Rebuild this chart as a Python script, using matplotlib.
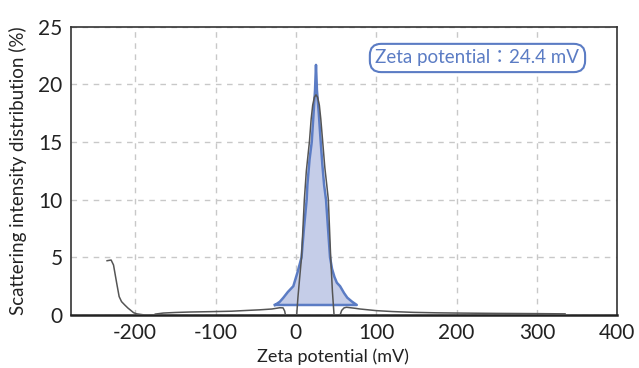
import numpy as np
import matplotlib.pyplot as plt

# measured distribution (mV, %), NaN separates the drawn segments
meas_x = [-235, -230, -227, -223, -220, -217, -213, -209, -206, -202, -198, -194, -190, np.nan,
          -175, -165, -150, -132, -107, -80, -60, -45, -30, -20, -16, -14, -13, np.nan,
          1, 2.5, 4.4, 7, 10.5, 13, 16.8, 19, 20.9, 23, 25, 27, 29.2, 31, 33.4, 36, 38.4, 40.4, 43.3, 45.5, 47.5, np.nan,
          55, 57, 60, 63, 68, 74, 80, 90, 100, 120, 146, 175, 200, 250, 300, 335]
meas_y = [4.71, 4.77, 4.34, 2.75, 1.6, 1.16, 0.87, 0.6, 0.43, 0.2, 0.1, 0.06, 0.02, np.nan,
          0.08, 0.17, 0.22, 0.26, 0.29, 0.33, 0.4, 0.45, 0.52, 0.63, 0.62, 0.35, 0.0, np.nan,
          0.0, 1.5, 3.0, 5.0, 10.0, 12.5, 15.0, 17.0, 18.2, 18.9, 19.1, 18.9, 18.2, 17.0, 15.0, 12.8, 11.3, 10.0, 5.0, 2.0, 0.0, np.nan,
          0.0, 0.4, 0.62, 0.67, 0.63, 0.58, 0.52, 0.45, 0.38, 0.3, 0.23, 0.19, 0.17, 0.14, 0.12, 0.1]

# fitted peak, zeta potential 24.4 mV
fit_x = [-26, -20, -15.6, -10, -3.2, 2, 7, 10, 13.4, 14.3, 17, 19.7, 22, 23.8, 25,
         26.2, 28.5, 30.9, 33, 35.1, 37.5, 40, 42.5, 45, 48, 51, 55, 60, 64, 70, 75.8]
fit_y = [0.87, 1.15, 1.5, 2.0, 2.5, 3.7, 5.0, 7.5, 10.0, 11.3, 13.5, 15.0, 17.5, 19.5, 21.7,
         19.5, 17.5, 15.0, 13.0, 11.3, 10.0, 7.5, 5.0, 4.0, 3.3, 2.8, 2.5, 1.9, 1.5, 1.15, 0.87]
base_y = 0.87
zeta = 24.4

blue = '#5b7cc4'
fill = '#c5cde8'

plt.rcParams['font.family'] = ['Lato', 'Noto Sans CJK JP', 'DejaVu Sans']
plt.rcParams['axes.unicode_minus'] = False

fig = plt.figure(figsize=(6.39, 3.68), dpi=100)
ax = fig.add_axes([0.111, 0.144, 0.855, 0.783])

ax.fill_between(fit_x, base_y, fit_y, color=fill, lw=0, zorder=2)
ax.plot(fit_x + [fit_x[0]], fit_y + [base_y], color=blue, lw=1.8, zorder=3)
ax.plot(meas_x, meas_y, color='#555555', lw=1.1, zorder=4)

ax.set_xlim(-280, 400)
ax.set_ylim(0, 25)
ax.set_xticks([-200, -100, 0, 100, 200, 300, 400])
ax.set_yticks([0, 5, 10, 15, 20, 25])
ax.grid(True, color='#c8c8c8', ls=(0, (4, 4)), lw=1.0, zorder=0)
ax.tick_params(length=0, labelsize=15, colors='#222222', pad=6)

for side in ['left', 'top', 'right']:
    ax.spines[side].set_color('#333333')
    ax.spines[side].set_linewidth(1.2)
ax.spines['bottom'].set_color('#222222')
ax.spines['bottom'].set_linewidth(1.8)

ax.set_xlabel('Zeta potential (mV)', fontsize=13, color='#222222')
ax.xaxis.set_label_coords(0.48, -0.115)
ax.set_ylabel('Scattering intensity distribution (%)', fontsize=13.5, color='#222222')
ax.yaxis.set_label_coords(-0.08, 0.5)

ax.text(226, 22.3, f'Zeta potential\uff1a{zeta} mV', fontsize=13.5, color=blue,
        ha='center', va='center', zorder=5,
        bbox=dict(boxstyle='round,pad=0.3,rounding_size=0.6', fc='white', ec=blue, lw=1.5))

fig.savefig('out.png', dpi=100)
